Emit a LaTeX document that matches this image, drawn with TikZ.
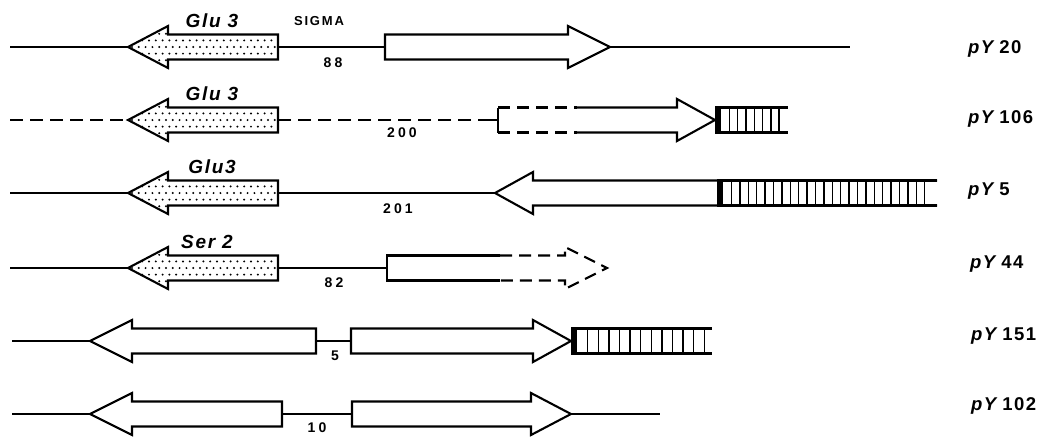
\documentclass[tikz,border=0pt]{standalone}
\usepackage{fontspec}
\setmainfont{Liberation Sans}
\newfontfamily\genefont[LetterSpace=9]{Liberation Sans}
\newfontfamily\numfont[LetterSpace=22]{Liberation Sans}
\newfontfamily\sigfont[LetterSpace=14]{Liberation Sans}
\newfontfamily\pfont[LetterSpace=8]{Liberation Sans}
\tikzset{
  x=1pt, y=-1pt,
  dna/.style={line width=1.8pt},
  dnadash/.style={line width=1.8pt, dash pattern=on 13pt off 7pt},
  gene/.style={draw=black, line width=2.1pt, line join=miter, fill=white},
  genedash/.style={draw=black, line width=2.1pt, line join=miter, dash pattern=on 12pt off 7pt},
  stripe/.style={line width=1.4pt},
  genelbl/.style={font=\genefont\fontsize{19}{19}\selectfont\bfseries\itshape, inner sep=0pt},
  numlbl/.style={font=\numfont\fontsize{14}{14}\selectfont\bfseries, inner sep=0pt},
  siglbl/.style={font=\sigfont\fontsize{13}{13}\selectfont\bfseries, inner sep=0pt},
  plbl/.style={font=\pfont\fontsize{18.5}{18.5}\selectfont\bfseries, inner sep=0pt, anchor=west}
}
% stippled left-pointing gene: tip, base, right, y
\newcommand\stipgene[4]{%
  \fill[white] (#1,#4) -- (#2,#4-21) -- (#2,#4-12.5) -- (#3,#4-12.5) -- (#3,#4+12.5) -- (#2,#4+12.5) -- (#2,#4+21) -- cycle;
  \begin{scope}
    \clip (#1,#4) -- (#2,#4-21) -- (#2,#4-12.5) -- (#3,#4-12.5) -- (#3,#4+12.5) -- (#2,#4+12.5) -- (#2,#4+21) -- cycle;
    \foreach \r in {-3,...,3}{
      \foreach \c in {0,...,24}{
        \fill ({#1+4+\c*6.8+mod(abs(\r),2)*3.4},{#4+\r*6.6}) circle (1.1);
      }
    }
  \end{scope}
  \draw[gene, fill=none] (#1,#4) -- (#2,#4-21) -- (#2,#4-12.5) -- (#3,#4-12.5) -- (#3,#4+12.5) -- (#2,#4+12.5) -- (#2,#4+21) -- cycle;
}
% plain left gene: tip, base, right, y
\newcommand\leftgene[4]{%
  \draw[gene] (#1,#4) -- (#2,#4-21) -- (#2,#4-12.5) -- (#3,#4-12.5) -- (#3,#4+12.5) -- (#2,#4+12.5) -- (#2,#4+21) -- cycle;
}
% plain right gene: left, base, tip, y
\newcommand\rightgene[4]{%
  \draw[gene] (#1,#4-12.5) -- (#2,#4-12.5) -- (#2,#4-21) -- (#3,#4) -- (#2,#4+21) -- (#2,#4+12.5) -- (#1,#4+12.5) -- cycle;
}
% striped fusion: start, number of stripes, line end, y, spacing
\newcommand\stripes[5]{%
  \draw[gene] (#1,#4-12.5) -- (#3,#4-12.5) (#1,#4+12.5) -- (#3,#4+12.5);
  \fill (#1,#4-12.5) rectangle ({#1+6},{#4+12.5});
  \foreach \k in {1,...,#2}{
    \draw[stripe] ({#1+6+\k*#5},#4-12.5) -- ({#1+6+\k*#5},#4+12.5);
  }
}
\begin{document}
\begin{tikzpicture}
\useasboundingbox (0,0) rectangle (1062,437);
% ---------- Row 1: pY20
\draw[dna] (10,47) -- (128,47);
\draw[dna] (278,47) -- (385,47);
\draw[dna] (610,47) -- (850,47);
\stipgene{128}{168}{278}{47}
\rightgene{385}{568}{610}{47}
\node[genelbl] (g1) at (212,21) {Glu 3};
\node[siglbl] (sig) at (319,21) {SIGMA};
\node[numlbl] (n1) at (333,63) {88};
\node[plbl] (p1) at (968,49) {\textit{pY}\,20};
% ---------- Row 2: pY106
\draw[dnadash] (10,120) -- (128,120);
\draw[dnadash] (278,120) -- (480,120);
\draw[dna] (480,120) -- (498,120);
\stripes{715}{7}{788}{120}{8.3}
\draw[gene] (498,107.5) -- (498,132.5);
\draw[genedash] (498,107.5) -- (577,107.5) (498,132.5) -- (577,132.5);
\draw[gene, fill=none] (577,107.5) -- (677,107.5) -- (677,99) -- (715,120) -- (677,141) -- (677,132.5) -- (577,132.5);
\stipgene{128}{168}{278}{120}
\node[genelbl] (g2) at (212,94) {Glu 3};
\node[numlbl] (n2) at (402,133) {200};
\node[plbl] (p2) at (968,119) {\textit{pY}\,106};
% ---------- Row 3: pY5
\draw[dna] (10,193) -- (128,193);
\draw[dna] (278,193) -- (495,193);
\stipgene{128}{168}{278}{193}
\draw[gene, fill=none] (937,180.5) -- (533,180.5) -- (533,172) -- (495,193) -- (533,214) -- (533,205.5) -- (937,205.5);
\stripes{717}{24}{937}{193}{8.4}
\node[genelbl] (g3) at (212,167) {Glu3};
\node[numlbl] (n3) at (398,209) {201};
\node[plbl] (p3) at (968,191) {\textit{pY}\,5};
% ---------- Row 4: pY44
\draw[dna] (10,268) -- (128,268);
\draw[dna] (278,268) -- (387,268);
\stipgene{128}{168}{278}{268}
\draw[gene, fill=none] (500,255.5) -- (387,255.5) -- (387,280.5) -- (500,280.5);
\draw[genedash] (500,255.5) -- (565,255.5) -- (565,247) -- (607,268) -- (565,289) -- (565,280.5) -- (500,280.5);
\node[genelbl] (g4) at (207,242) {Ser 2};
\node[numlbl] (n4) at (334,283) {82};
\node[plbl] (p4) at (970,264) {\textit{pY}\,44};
% ---------- Row 5: pY151
\draw[dna] (12,341) -- (90,341);
\draw[dna] (316,341) -- (351,341);
\leftgene{90}{132}{316}{341}
\rightgene{351}{533}{571}{341}
\stripes{571}{12}{712}{341}{10.6}
\node[numlbl] (n5) at (335,356) {5};
\node[plbl] (p5) at (971,336) {\textit{pY}\,151};
% ---------- Row 6: pY102
\draw[dna] (12,414) -- (90,414);
\draw[dna] (282,414) -- (352,414);
\draw[dna] (571,414) -- (660,414);
\leftgene{90}{132}{282}{414}
\rightgene{352}{531}{571}{414}
\node[numlbl] (n6) at (317,428) {10};
\node[plbl] (p6) at (971,406) {\textit{pY}\,102};
\end{tikzpicture}
\end{document}
